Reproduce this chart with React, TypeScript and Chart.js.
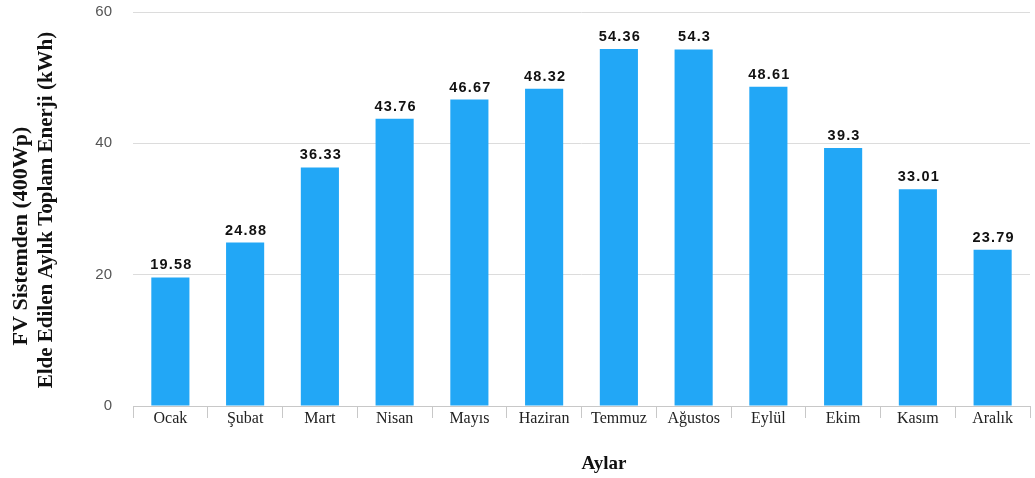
import React, { useEffect, useRef } from "react";
import { Chart, registerables } from "chart.js";

Chart.register(...registerables);

const months = ["Ocak", "Şubat", "Mart", "Nisan", "Mayıs", "Haziran", "Temmuz", "Ağustos", "Eylül", "Ekim", "Kasım", "Aralık"];
const energy = [19.58, 24.88, 36.33, 43.76, 46.67, 48.32, 54.36, 54.3, 48.61, 39.3, 33.01, 23.79];
const energyLabels = ["19.58", "24.88", "36.33", "43.76", "46.67", "48.32", "54.36", "54.3", "48.61", "39.3", "33.01", "23.79"];
const yTitle = ["FV Sistemden (400Wp)", "Elde Edilen Aylık Toplam Enerji (kWh)"];
const xTitle = "Aylar";

const SERIF = "'Liberation Serif', 'Times New Roman', serif";
const SANS = "'Liberation Sans', Arial, sans-serif";

const overlayPlugin = {
  id: "overlay",
  afterDatasetsDraw(chart: any) {
    const ctx = chart.ctx;
    const meta = chart.getDatasetMeta(0);
    ctx.save();
    ctx.font = `bold 14.5px ${SANS}`;
    ctx.fillStyle = "#111";
    ctx.textAlign = "center";
    ctx.textBaseline = "alphabetic";
    try { (ctx as any).letterSpacing = "1.2px"; } catch (e) {}
    meta.data.forEach((bar: any, i: number) => {
      ctx.fillText(energyLabels[i], bar.x + 1, bar.y - 8);
    });
    try { (ctx as any).letterSpacing = "0px"; } catch (e) {}
    ctx.fillStyle = "#111";
    ctx.textBaseline = "middle";
    ctx.save();
    ctx.font = `bold 22px ${SERIF}`;
    ctx.translate(21, 236);
    ctx.rotate(-Math.PI / 2);
    ctx.fillText(yTitle[0], 0, 0);
    ctx.restore();
    ctx.save();
    ctx.font = `bold 21px ${SERIF}`;
    ctx.translate(47, 210);
    ctx.rotate(-Math.PI / 2);
    ctx.fillText(yTitle[1], 0, 0);
    ctx.restore();
    ctx.font = `bold 19px ${SERIF}`;
    ctx.fillText(xTitle, 604, 464);
    ctx.restore();
  },
};

export default function App() {
  const ref = useRef<HTMLCanvasElement | null>(null);
  useEffect(() => {
    document.body.style.margin = "0";
    const canvas = ref.current!;
    const chart = new Chart(canvas, {
      type: "bar",
      data: {
        labels: months,
        datasets: [
          {
            data: energy,
            backgroundColor: "#22a7f6",
            borderWidth: 0,
            categoryPercentage: 1,
            barPercentage: 0.51,
          },
        ],
      },
      options: {
        responsive: false,
        animation: false,
        devicePixelRatio: 1,
        layout: { padding: { top: 12, right: 5, left: 0, bottom: 0 } },
        plugins: {
          legend: { display: false },
          tooltip: { enabled: false },
        },
        scales: {
          x: {
            grid: {
              display: true,
              drawOnChartArea: false,
              drawTicks: true,
              tickLength: 12,
              color: "#c8c8c8",
              offset: true,
            },
            border: { display: true, color: "#c8c8c8" },
            ticks: {
              font: { family: SERIF, size: 16 },
              color: "#222",
              padding: -9,
              maxRotation: 0,
              autoSkip: false,
            },
            afterFit(scale: any) {
              scale.height = 72;
              scale.paddingLeft = 0;
              scale.paddingRight = 0;
            },
          },
          y: {
            min: 0,
            max: 60,
            ticks: {
              stepSize: 20,
              font: { family: SANS, size: 15 },
              color: "#555",
              padding: 21,
            },
            grid: { color: "#dcdcdc", drawTicks: false },
            border: { display: false },
            afterFit(scale: any) {
              scale.width = 133;
              scale.paddingTop = 0;
              scale.paddingBottom = 0;
            },
          },
        },
      },
      plugins: [overlayPlugin],
    });
    return () => chart.destroy();
  }, []);
  return (
    <div style={{ width: 1035, height: 478 }}>
      <canvas ref={ref} width={1035} height={478} style={{ display: "block" }} />
    </div>
  );
}
